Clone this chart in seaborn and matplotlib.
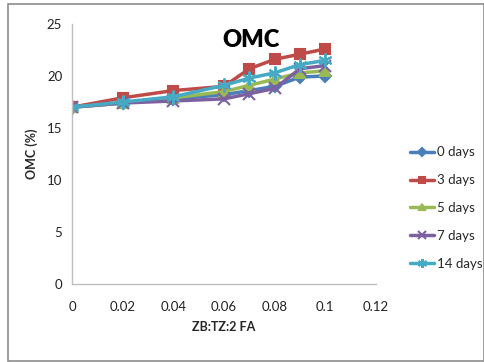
import matplotlib
matplotlib.use("Agg")
import matplotlib.pyplot as plt
import seaborn as sns
import pandas as pd
from matplotlib.patches import Rectangle

x_vals = [0, 0.02, 0.04, 0.06, 0.07, 0.08, 0.09, 0.1]
days_0 = [17.0, 17.4, 17.8, 18.2, 18.6, 19.0, 19.9, 20.0]
days_3 = [17.0, 17.9, 18.6, 19.0, 20.7, 21.6, 22.1, 22.6]
days_5 = [17.0, 17.4, 17.9, 18.5, 19.1, 19.7, 20.3, 20.5]
days_7 = [17.0, 17.4, 17.6, 17.8, 18.3, 18.8, 20.7, 21.0]
days_14 = [17.0, 17.5, 18.0, 19.1, 19.8, 20.3, 21.1, 21.5]
series_names = ["0 days", "3 days", "5 days", "7 days", "14 days"]
x_ticks = [0, 0.02, 0.04, 0.06, 0.08, 0.1, 0.12]
x_tick_labels = ["0", "0.02", "0.04", "0.06", "0.08", "0.1", "0.12"]
y_ticks = [0, 5, 10, 15, 20, 25]

series = [days_0, days_3, days_5, days_7, days_14]
rows = []
for name, vals in zip(series_names, series):
    for xv, yv in zip(x_vals, vals):
        rows.append({"x": xv, "y": yv, "series": name})
df = pd.DataFrame(rows)

sns.set_theme(style="white")
plt.rcParams['font.family'] = ['Lato', 'DejaVu Sans']

colors = {"0 days": "#4A7EBB", "3 days": "#BE4B48", "5 days": "#98B954",
          "7 days": "#7D60A0", "14 days": "#46AAC5"}
markers = {"0 days": "D", "3 days": "s", "5 days": "^", "7 days": "x",
           "14 days": (6, 2, 0)}
msizes = {"0 days": 6, "3 days": 7, "5 days": 7, "7 days": 8, "14 days": 10}

fig = plt.figure(figsize=(4.85, 3.62), dpi=100)
ax = fig.add_axes([72/485, 1-284/362, (376-72)/485, (284-24)/362])

for name in series_names:
    sub = df[df["series"] == name]
    sns.lineplot(data=sub, x="x", y="y", ax=ax, color=colors[name],
                 marker=markers[name], markersize=msizes[name],
                 markeredgecolor=colors[name], markeredgewidth=1.5,
                 linewidth=2.5, label=name, legend=False)

ax.set_xlim(0, 0.12)
ax.set_ylim(0, 25)
ax.set_xticks(x_ticks)
ax.set_xticklabels(x_tick_labels)
ax.set_yticks(y_ticks)
for s in ["top", "right"]:
    ax.spines[s].set_visible(False)
for s in ["left", "bottom"]:
    ax.spines[s].set_color("#BFBFBF")
    ax.spines[s].set_linewidth(1.0)
ax.tick_params(axis="both", which="both", direction="out", length=4,
               color="#BFBFBF", labelsize=9.5, labelcolor="#222222", pad=3)
ax.tick_params(axis="x", pad=8)
ax.set_xlabel("ZB:TZ:2 FA", fontsize=9, fontweight="bold", labelpad=6)
ax.set_ylabel("OMC (%)", fontsize=9, fontweight="bold", labelpad=6)
ax.text(0.0705, 23.5, "OMC", ha="center", va="center", fontsize=17,
        fontweight="heavy", color="black")

handles, labels = ax.get_legend_handles_labels()
fig.legend(handles, labels, loc="center left", bbox_to_anchor=(405/485, 1-208/362),
           frameon=False, fontsize=9.5, handlelength=1.8, handletextpad=0.2,
           labelspacing=1.2, borderaxespad=0, markerscale=0.65)

fig.patches.append(Rectangle((8/485, 1/362), 476/485, 357/362, transform=fig.transFigure,
                             fill=False, edgecolor="#8C8C8C", linewidth=1.2))

fig.savefig("out.png", dpi=100)
